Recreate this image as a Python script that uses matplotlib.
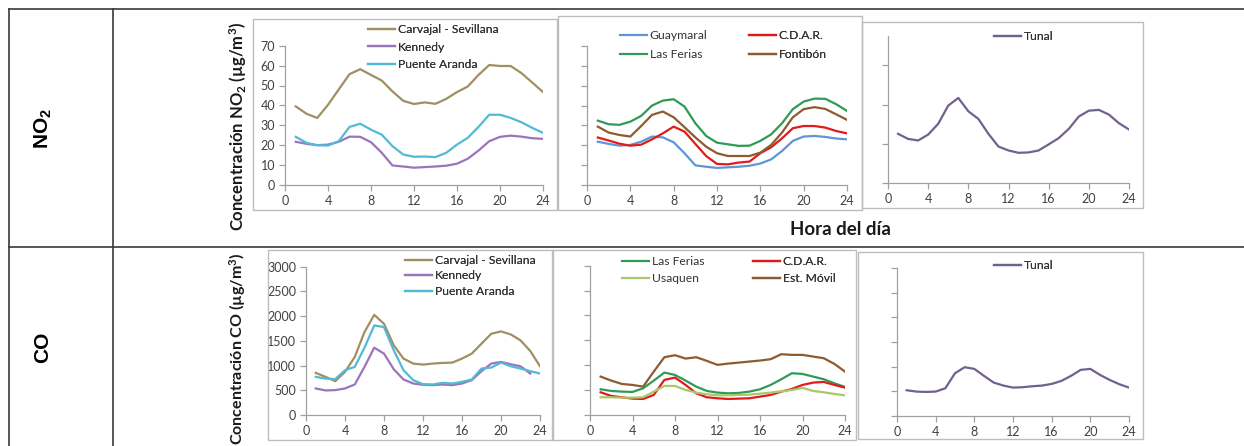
import matplotlib.pyplot as plt
import matplotlib as mpl
from matplotlib.patches import Rectangle
from matplotlib.lines import Line2D

mpl.rc('font', family='Lato', size=9)
mpl.rc('mathtext', default='regular')

W, H = 1244, 446

hours = list(range(1, 25))

# NO2 (ug/m3)
no2_carvajal = [39.5, 35.8, 33.7, 40.3, 48.0, 55.7, 58.2, 55.3, 52.5, 47.0, 42.3, 40.7,
                41.5, 40.8, 43.3, 46.7, 49.5, 55.3, 60.3, 59.8, 59.8, 56.2, 51.5, 46.7]
no2_kennedy = [21.7, 20.7, 20.0, 20.3, 21.7, 24.3, 24.2, 21.5, 16.2, 9.8, 9.3, 8.7,
               9.0, 9.3, 9.7, 10.7, 13.2, 17.3, 22.0, 24.2, 24.8, 24.3, 23.5, 23.2]
no2_puente = [24.2, 21.2, 20.0, 19.8, 22.0, 29.2, 30.8, 27.8, 25.3, 19.5, 15.3, 14.2,
              14.3, 14.0, 16.2, 20.3, 23.7, 29.2, 35.3, 35.3, 33.7, 31.5, 28.7, 26.2]
no2_guaymaral = [21.8, 20.7, 19.8, 20.2, 21.8, 24.4, 24.0, 21.5, 16.0, 9.9, 9.2, 8.6,
                 8.9, 9.2, 9.7, 10.8, 12.9, 17.1, 22.2, 24.4, 24.7, 24.2, 23.4, 23.0]
no2_cdar = [23.9, 22.4, 20.8, 19.8, 20.3, 23.0, 26.0, 29.4, 26.9, 20.7, 14.6, 10.6,
            10.4, 11.3, 11.8, 16.0, 19.0, 23.5, 28.6, 29.7, 29.7, 28.9, 27.2, 26.0]
no2_ferias = [32.4, 30.6, 30.3, 31.9, 34.8, 40.0, 42.5, 43.2, 39.5, 31.1, 24.7, 21.3,
              20.5, 19.7, 19.8, 22.2, 25.5, 31.1, 38.2, 42.0, 43.5, 43.4, 40.7, 37.3]
no2_fontibon = [29.4, 26.4, 25.2, 24.4, 29.7, 35.3, 37.0, 34.1, 29.1, 24.0, 19.3, 16.0,
                14.6, 14.6, 14.6, 16.3, 20.2, 26.4, 34.1, 38.2, 39.2, 38.3, 35.6, 32.8]
no2_tunal = [25.1, 22.5, 21.7, 24.7, 30.2, 39.5, 43.4, 36.6, 32.7, 25.1, 18.6, 16.6,
             15.4, 15.6, 16.6, 19.7, 22.9, 27.6, 33.9, 36.9, 37.3, 34.9, 30.5, 27.3]

# CO (ug/m3)
co_carvajal = [852, 772, 684, 872, 1174, 1678, 2026, 1845, 1409, 1141, 1040, 1020,
               1040, 1053, 1060, 1141, 1241, 1443, 1644, 1691, 1630, 1510, 1295, 986]
co_kennedy = [537, 497, 503, 537, 617, 973, 1362, 1241, 926, 718, 637, 611,
              604, 617, 604, 637, 705, 886, 1040, 1074, 1027, 986, 839]
co_puente = [772, 738, 725, 906, 973, 1362, 1812, 1778, 1308, 906, 705, 624,
             617, 651, 637, 671, 718, 939, 960, 1060, 986, 939, 886, 839]
co_ferias = [517, 483, 470, 463, 537, 691, 852, 805, 691, 570, 483, 450,
             436, 443, 470, 517, 604, 718, 839, 825, 772, 718, 637, 564]
co_cdar = [456, 383, 356, 329, 322, 403, 705, 752, 604, 436, 356, 336,
           322, 329, 336, 369, 403, 470, 523, 604, 651, 664, 604, 550]
co_usaquen = [356, 356, 349, 349, 356, 470, 584, 584, 503, 450, 416, 396,
              396, 403, 409, 429, 450, 476, 503, 544, 483, 456, 423, 396]
co_movil = [772, 691, 624, 604, 570, 872, 1161, 1201, 1134, 1161, 1087, 1007,
            1033, 1053, 1074, 1094, 1121, 1221, 1208, 1208, 1174, 1141, 1027, 872]
co_tunal = [522, 495, 488, 495, 562, 867, 989, 955, 813, 678, 617, 576,
            583, 603, 617, 650, 711, 813, 935, 955, 833, 732, 644, 576]

c_carvajal = '#a08f62'
c_kennedy = '#9a74bd'
c_puente = '#52b9d6'
c_guaymaral = '#5f95d6'
c_cdar = '#e01b1b'
c_ferias = '#2f9b57'
c_fontibon = '#8d5b2f'
c_tunal = '#72608f'
c_usaquen = '#a9c86b'
c_movil = '#8d5b2f'


def fx(x):
    return x / W


def fy(y):
    return 1 - y / H


def box(x0, y0, x1, y1):
    return [fx(x0), fy(y1), (x1 - x0) / W, (y1 - y0) / H]


fig = plt.figure(figsize=(W / 100, H / 100), dpi=100)

# table lines
tc = '#3a3a3a'
for xs, ys in [([9, W], [9, 9]), ([9, W], [247, 247]), ([9, 9], [9, H]), ([113, 113], [9, H])]:
    fig.add_artist(Line2D([fx(v) for v in xs], [fy(v) for v in ys], color=tc, lw=1.2,
                          transform=fig.transFigure))

# chart frames
for x0, y0, x1, y1 in [(253, 19, 557, 210), (558, 16, 862, 210), (862, 22, 1143, 208),
                       (268, 250, 553, 440), (552, 250, 856, 440), (858, 252, 1143, 439)]:
    fig.add_artist(Rectangle((fx(x0), fy(y1)), (x1 - x0) / W, (y1 - y0) / H, fill=False,
                             edgecolor='#bdbdbd', lw=1, transform=fig.transFigure))


def style(ax, ymax, ystep, ylabels):
    ax.set_xlim(0, 24)
    ax.set_ylim(0, ymax)
    ax.set_xticks(range(0, 25, 4))
    ax.set_yticks(range(0, ymax + 1, ystep))
    ax.patch.set_visible(False)
    for s in ['top', 'right']:
        ax.spines[s].set_visible(False)
    for s in ['left', 'bottom']:
        ax.spines[s].set_color('#a0a0a0')
        ax.spines[s].set_linewidth(0.9)
    ax.tick_params(length=4, width=0.9, color='#a0a0a0', labelcolor='#404040', labelsize=9, pad=3)
    if not ylabels:
        ax.set_yticklabels([])


def legend(ax, lines, x, y, sp):
    lg = ax.legend(handles=lines, loc='upper left', bbox_to_anchor=(fx(x), fy(y)),
                   bbox_transform=fig.transFigure, frameon=False, fontsize=8.7,
                   handlelength=2.25, handletextpad=0.2, labelspacing=sp, borderpad=0,
                   borderaxespad=0, labelcolor='#333333')
    ax.add_artist(lg)


lw = 1.6

# NO2 panel 1
ax1 = fig.add_axes(box(285, 45.7, 543, 185))
style(ax1, 70, 10, True)
l1, = ax1.plot(hours, no2_carvajal, color=c_carvajal, lw=lw, label='Carvajal - Sevillana')
l2, = ax1.plot(hours, no2_kennedy, color=c_kennedy, lw=lw, label='Kennedy')
l3, = ax1.plot(hours, no2_puente, color=c_puente, lw=lw, label='Puente Aranda')
legend(ax1, [l1, l2, l3], 368, 24, 0.54)

# NO2 panel 2
ax2 = fig.add_axes(box(587, 46, 847, 185))
style(ax2, 70, 10, False)
g1, = ax2.plot(hours, no2_guaymaral, color=c_guaymaral, lw=lw, label='Guaymaral')
g2, = ax2.plot(hours, no2_cdar, color=c_cdar, lw=lw, label='C.D.A.R.')
g3, = ax2.plot(hours, no2_ferias, color=c_ferias, lw=lw, label='Las Ferias')
g4, = ax2.plot(hours, no2_fontibon, color=c_fontibon, lw=lw, label='Fontibón')
legend(ax2, [g1, g3], 620, 30, 0.66)
legend(ax2, [g2, g4], 749, 30, 0.66)

# NO2 panel 3
ax3 = fig.add_axes(box(888, 36, 1129, 183))
style(ax3, 75, 20, False)
t1, = ax3.plot(hours, no2_tunal, color=c_tunal, lw=lw, label='Tunal')
legend(ax3, [t1], 994, 31, 0.5)

# CO panel 4
ax4 = fig.add_axes(box(306, 266.7, 540, 415))
style(ax4, 3000, 500, True)
k1, = ax4.plot(hours, co_carvajal, color=c_carvajal, lw=lw, label='Carvajal - Sevillana')
k2, = ax4.plot(hours[:len(co_kennedy)], co_kennedy, color=c_kennedy, lw=lw, label='Kennedy')
k3, = ax4.plot(hours, co_puente, color=c_puente, lw=lw, label='Puente Aranda')
legend(ax4, [k1, k2, k3], 405, 255, 0.37)

# CO panel 5
ax5 = fig.add_axes(box(590, 265.7, 845, 415))
style(ax5, 3000, 500, False)
m1, = ax5.plot(hours, co_ferias, color=c_ferias, lw=lw, label='Las Ferias')
m2, = ax5.plot(hours, co_cdar, color=c_cdar, lw=lw, label='C.D.A.R.')
m3, = ax5.plot(hours, co_usaquen, color=c_usaquen, lw=lw, label='Usaquen')
m4, = ax5.plot(hours, co_movil, color=c_movil, lw=lw, label='Est. Móvil')
legend(ax5, [m1, m3], 622, 256, 0.5)
legend(ax5, [m2, m4], 753, 256, 0.5)

# CO panel 6
ax6 = fig.add_axes(box(897, 268, 1129, 416))
style(ax6, 3000, 500, False)
u1, = ax6.plot(hours, co_tunal, color=c_tunal, lw=lw, label='Tunal')
legend(ax6, [u1], 994, 260, 0.5)

# labels
fig.text(fx(238), fy(126), 'Concentración NO$_2$ (µg/m$^3$)', rotation=90, ha='center',
         va='center', fontsize=12, fontweight='bold', color='#1a1a1a')
fig.text(fx(238), fy(349), 'Concentración CO (µg/m$^3$)', rotation=90, ha='center',
         va='center', fontsize=11.5, fontweight='bold', color='#1a1a1a')
fig.text(fx(840), fy(229), 'Hora del día', ha='center', va='center', fontsize=13.5,
         fontweight='bold', color='#1a1a1a')
fig.text(fx(43), fy(128), 'NO$_2$', rotation=90, ha='center', va='center', fontsize=15,
         fontweight='bold', family='Liberation Sans')
fig.text(fx(43), fy(347), 'CO', rotation=90, ha='center', va='center', fontsize=15,
         fontweight='bold', family='Liberation Sans')

fig.savefig('out.png', dpi=100)
